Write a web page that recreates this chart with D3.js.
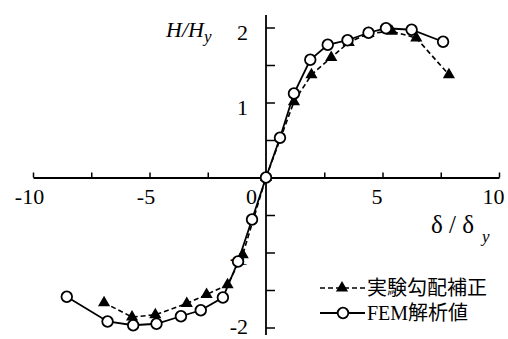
<!DOCTYPE html>
<html>
<head>
<meta charset="utf-8">
<script src="https://cdn.jsdelivr.net/npm/d3@7"></script>
<style>
  body { margin: 0; background: #fff; }
</style>
</head>
<body>
<div id="chart"></div>
<script>
const svgWidth = 508;
const svgHeight = 339;

// 実験勾配補正 (triangles, dashed)
const expX = [-6.95, -5.75, -4.75, -3.4, -2.55, -1.65, -1.0, 0, 1.2, 1.95, 2.8, 3.55, 4.4, 5.4, 6.45, 7.85];
const expY = [-1.67, -1.86, -1.83, -1.68, -1.56, -1.43, -1.03, 0, 1.01, 1.37, 1.6, 1.8, 1.92, 1.95, 1.86, 1.37];

// FEM解析値 (open circles, solid)
const femX = [-8.55, -6.8, -5.7, -4.7, -3.65, -2.8, -1.85, -1.2, -0.6, 0, 0.6, 1.2, 1.9, 2.65, 3.5, 4.4, 5.15, 6.25, 7.6];
const femY = [-1.59, -1.92, -1.97, -1.95, -1.85, -1.77, -1.6, -1.12, -0.56, 0, 0.53, 1.12, 1.57, 1.77, 1.83, 1.93, 1.99, 1.97, 1.81];

const xTicks = [-10, -7.5, -5, -2.5, 0, 2.5, 5, 7.5, 10];
const xTickLabels = [-10, -5, 0, 5, 10];
const yTicks = [-2, -1.5, -1, -0.5, 0.5, 1, 1.5, 2];
const yTickLabels = [-2, -1, 1, 2];
const legendNames = ['実験勾配補正', 'FEM解析値'];

const serif = "'Liberation Serif', 'Times New Roman', Times, 'DejaVu Serif', serif";
const serifCjk = "'Liberation Serif', 'Times New Roman', 'Noto Sans CJK JP', serif";

const expData = expX.map((x, i) => ({x: x, y: expY[i]}));
const femData = femX.map((x, i) => ({x: x, y: femY[i]}));

let svg = d3.select('#chart')
    .append('svg')
    .attr('width', svgWidth)
    .attr('height', svgHeight);

// scales: x -10..10 -> 33..499, y 0 at 177.5, 75px per unit
let x = d3.scaleLinear().domain([-10, 10]).range([33, 499]);
let y = d3.scaleLinear().domain([-2, 2]).range([327.5, 27.5]);

// y axis line runs past the domain a little
svg.append('line')
    .attr('x1', x(0)).attr('x2', x(0))
    .attr('y1', 15).attr('y2', 335)
    .attr('stroke', '#000').attr('stroke-width', 1.8);

// x axis, ticks pointing up
let xAxis = svg.append('g')
    .attr('transform', `translate(0,${y(0)})`)
    .call(d3.axisBottom(x)
        .tickValues(xTicks)
        .tickSizeInner(-5)
        .tickSizeOuter(0)
        .tickFormat(d => xTickLabels.includes(d) ? d : ''));
xAxis.select('.domain').attr('stroke-width', 1.8);
xAxis.selectAll('.tick line').attr('stroke-width', 1.5);
xAxis.selectAll('.tick text')
    .style('font-family', serif)
    .style('font-size', '22px')
    .attr('y', 26)
    .attr('dy', null)
    .attr('dx', d => d === 0 ? -15 : (d < 0 ? -4 : -6));

// y axis, ticks pointing right
let yAxis = svg.append('g')
    .attr('transform', `translate(${x(0)},0)`)
    .call(d3.axisLeft(y)
        .tickValues(yTicks)
        .tickSizeInner(-9)
        .tickSizeOuter(0)
        .tickFormat(d => yTickLabels.includes(d) ? d : ''));
yAxis.select('.domain').remove();
yAxis.selectAll('.tick line').attr('stroke-width', 1.5);
yAxis.selectAll('.tick text')
    .style('font-family', serif)
    .style('font-size', '22px')
    .attr('x', -18)
    .attr('dy', d => d === -2 ? 6 : 12);

// axis titles
let yTitle = svg.append('text')
    .attr('x', 166).attr('y', 37)
    .style('font-family', serif)
    .style('font-size', '22px')
    .style('font-style', 'italic');
yTitle.append('tspan').text('H/H');
yTitle.append('tspan').style('font-size', '17px').attr('dy', 5).text('y');

let xTitle = svg.append('text')
    .attr('x', 431).attr('y', 233)
    .style('font-family', serif)
    .style('font-size', '25px');
xTitle.append('tspan').text('δ / δ');
xTitle.append('tspan').style('font-size', '17px').style('font-style', 'italic')
    .attr('dx', 8).attr('dy', 9).text('y');

let line = d3.line().x(d => x(d.x)).y(d => y(d.y));

// experimental series
svg.append('path')
    .datum(expData)
    .attr('d', line)
    .attr('fill', 'none')
    .attr('stroke', '#000')
    .attr('stroke-width', 1.6)
    .attr('stroke-dasharray', '5,3');

// FEM series
svg.append('path')
    .datum(femData)
    .attr('d', line)
    .attr('fill', 'none')
    .attr('stroke', '#000')
    .attr('stroke-width', 1.8);

let tri = d3.symbol().type(d3.symbolTriangle).size(64);

svg.append('g').selectAll('path')
    .data(expData)
    .enter()
    .append('path')
    .attr('d', tri)
    .attr('transform', d => `translate(${x(d.x)},${y(d.y)})`)
    .attr('fill', '#000');

svg.append('g').selectAll('circle')
    .data(femData)
    .enter()
    .append('circle')
    .attr('cx', d => x(d.x))
    .attr('cy', d => y(d.y))
    .attr('r', 5.3)
    .attr('fill', '#fff')
    .attr('stroke', '#000')
    .attr('stroke-width', 1.8);

// legend
let legend = svg.append('g');
legend.append('line')
    .attr('x1', 320).attr('x2', 365).attr('y1', 288).attr('y2', 288)
    .attr('stroke', '#000').attr('stroke-width', 1.6)
    .attr('stroke-dasharray', '5,3');
legend.append('path')
    .attr('d', tri)
    .attr('transform', 'translate(342,288)')
    .attr('fill', '#000');
legend.append('text')
    .attr('x', 367).attr('y', 295)
    .style('font-family', serifCjk)
    .style('font-size', '20px')
    .text(legendNames[0]);

legend.append('line')
    .attr('x1', 320).attr('x2', 365).attr('y1', 313).attr('y2', 313)
    .attr('stroke', '#000').attr('stroke-width', 1.8);
legend.append('circle')
    .attr('cx', 343).attr('cy', 313).attr('r', 5.3)
    .attr('fill', '#fff').attr('stroke', '#000').attr('stroke-width', 1.8);
legend.append('text')
    .attr('x', 367).attr('y', 320)
    .style('font-family', serifCjk)
    .style('font-size', '20px')
    .text(legendNames[1]);
</script>
</body>
</html>
